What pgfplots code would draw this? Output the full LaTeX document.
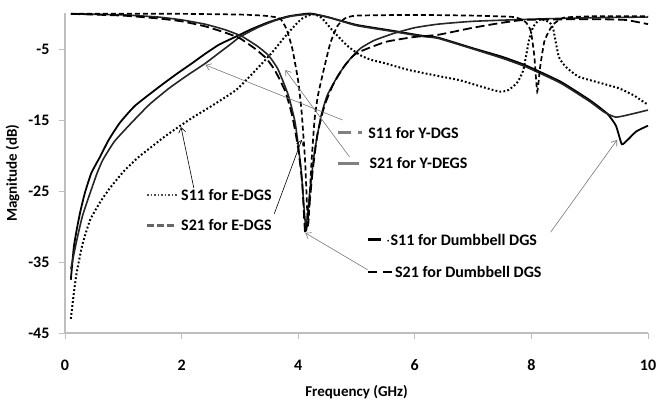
\documentclass[border=0pt]{standalone}
\usepackage{pgfplots}
\pgfplotsset{compat=1.18}
\usepackage{fontspec}
\setmainfont{Carlito}
\usetikzlibrary{arrows.meta}
\definecolor{axgray}{RGB}{190,190,190}
\definecolor{lblgray}{RGB}{128,128,128}
\definecolor{arrgray}{RGB}{120,120,120}
\begin{document}
\begin{tikzpicture}
\begin{axis}[
  scale only axis, width=583pt, height=319.5pt,
  xmin=0, xmax=10, ymin=-45, ymax=0,
  axis lines*=left,
  axis line style={axgray, line width=1.2pt},
  xtick={0,2,4,6,8,10}, xticklabels={0,2,4,6,8,10},
  ytick={-45,-35,-25,-15,-5}, yticklabels={-45,-35,-25,-15,-5},
  tick style={axgray, line width=0.8pt},
  major tick length=6pt,
  tick align=outside,
  ticklabel style={font=\fontsize{16}{16}\selectfont\bfseries},
  xticklabel style={anchor=center, yshift=-26pt},
  yticklabel style={xshift=-6pt},
  xlabel={Frequency (GHz)}, ylabel={Magnitude (dB)},
  label style={font=\fontsize{15}{15}\selectfont\bfseries},
  xlabel style={at={(axis description cs:0.5,-0.185)}, anchor=center},
  ylabel style={at={(axis description cs:-0.09,0.5)}, anchor=center},
  clip=false,
]
% S11 Dumbbell DGS
\addplot[black, line width=1.8pt, smooth, tension=0.3] coordinates {
(0.1,-37.5)(0.15,-33)(0.2,-30.5)(0.26,-28)(0.34,-25.3)(0.45,-22.5)(0.6,-20.2)(0.75,-17.8)(0.94,-15.4)(1.2,-13)(1.62,-10.3)(1.9,-8.6)(2.18,-7)(2.4,-5.7)(2.64,-4.4)(2.92,-3.3)(3.2,-2.2)(3.5,-1.2)(3.83,-0.4)(4.2,0)(4.5,-0.5)(5.0,-1.6)(5.6,-2.4)(6.1,-3.1)(6.4,-3.4)(7.0,-4.9)(7.5,-6.1)(7.9,-7.3)(8.5,-9.6)(9.0,-12.2)(9.3,-14.1)(9.45,-15.8)(9.55,-18.4)(9.65,-17.8)(9.8,-16.6)(10,-15.8)};
% S11 Y-DGS
\addplot[black!85, line width=1.6pt, smooth, tension=0.3] coordinates {
(0.1,-36)(0.15,-34)(0.2,-32)(0.3,-28.5)(0.43,-25.3)(0.55,-22.5)(0.65,-20.6)(0.85,-18)(1.14,-15.4)(1.45,-12.8)(1.79,-10.5)(2.1,-8.7)(2.41,-7)(2.65,-5.5)(2.86,-4.2)(3.0,-3.3)(3.3,-2.0)(3.6,-1.0)(3.9,-0.35)(4.25,-0.1)(4.55,-0.6)(5.0,-1.7)(5.6,-2.5)(6.1,-3.2)(6.4,-3.5)(7.0,-5.0)(7.5,-6.3)(7.9,-7.5)(8.5,-9.8)(9.0,-12.4)(9.25,-13.9)(9.45,-14.6)(9.7,-14.2)(10,-13.6)};
% S21 Y-DGS
\addplot[black!85, line width=1.6pt, smooth, tension=0.3] coordinates {
(0.1,-0.05)(1.0,-0.2)(1.6,-0.5)(2.0,-0.9)(2.4,-1.5)(2.75,-2.3)(3.03,-3.2)(3.3,-4.6)(3.49,-5.9)(3.65,-7.8)(3.83,-11.5)(3.95,-15.5)(4.05,-22)(4.13,-30)(4.2,-25)(4.28,-19.5)(4.39,-14.5)(4.5,-11.5)(4.7,-8.5)(4.9,-6.3)(5.07,-4.9)(5.3,-3.8)(5.64,-2.8)(6.0,-2.0)(6.4,-1.5)(7.0,-1.1)(8.0,-0.8)(9.0,-0.6)(10,-0.5)};
% S21 Dumbbell DGS
\addplot[black, line width=1.8pt, dash pattern=on 9pt off 4pt, smooth, tension=0.3] coordinates {
(0.1,-0.05)(1.0,-0.3)(1.6,-0.7)(2.0,-1.1)(2.4,-1.8)(2.75,-2.7)(3.0,-3.5)(3.25,-4.9)(3.45,-6.3)(3.6,-8.0)(3.78,-11)(3.9,-14.5)(4.0,-19)(4.07,-24)(4.12,-31)(4.18,-28)(4.25,-22)(4.33,-17)(4.45,-13)(4.6,-10)(4.8,-7.3)(5.0,-5.6)(5.5,-4.0)(6.0,-3.3)(6.4,-3.0)(7.0,-2.0)(7.5,-1.3)(7.9,-0.9)(9.0,-0.8)(9.6,-0.9)(10,-1.5)};
% S21 E-DGS
\addplot[black, line width=1.7pt, dash pattern=on 5pt off 3pt, smooth, tension=0.3] coordinates {
(0.1,-0.02)(2.0,-0.05)(3.0,-0.15)(3.4,-0.3)(3.6,-0.5)(3.7,-0.8)(3.8,-2.2)(3.9,-5)(4.0,-9.5)(4.06,-14)(4.12,-21)(4.17,-30)(4.22,-22)(4.28,-15)(4.34,-11.5)(4.45,-7.5)(4.55,-4.2)(4.67,-1.8)(4.8,-0.7)(5.0,-0.3)(6.0,-0.2)(7.0,-0.3)(7.7,-0.5)(7.9,-1.2)(7.99,-2.5)(8.05,-6)(8.1,-11)(8.15,-7.5)(8.22,-4)(8.3,-2.5)(8.38,-1.5)(8.55,-0.6)(9,-0.4)(10,-0.4)};
% S11 E-DGS
\addplot[black, line width=2pt, dash pattern=on 1.8pt off 2.2pt, smooth, tension=0.3] coordinates {
(0.1,-43)(0.15,-39.5)(0.2,-36.5)(0.3,-32.5)(0.43,-29.1)(0.6,-26.6)(0.77,-24.6)(1.0,-22.3)(1.25,-20.3)(1.45,-19.0)(1.7,-17.4)(1.96,-15.9)(2.2,-14.6)(2.5,-13.1)(2.93,-10.8)(3.2,-8.6)(3.54,-5.6)(3.8,-3.0)(4.05,-0.8)(4.25,-0.1)(4.4,-0.6)(4.6,-2.5)(4.85,-4.6)(5.07,-5.9)(5.24,-6.5)(5.48,-7.0)(5.92,-8.0)(6.4,-8.8)(6.77,-9.4)(7.1,-10.2)(7.45,-11.0)(7.6,-10.8)(7.75,-9.8)(7.86,-8)(7.96,-3.7)(8.03,-1.9)(8.15,-0.8)(8.3,-1.2)(8.37,-2)(8.47,-6.1)(8.6,-7.6)(8.81,-8.9)(9.1,-9.6)(9.49,-10.5)(9.75,-11.5)(9.95,-12.6)(10,-12.8)};

% annotation arrows
\draw[arrgray, line width=0.6pt, -{Straight Barb[length=5pt,width=7pt]}] (axis cs:4.76,-15.0) -- (axis cs:2.41,-7.25);
\draw[arrgray, line width=0.6pt, -{Straight Barb[length=5pt,width=7pt]}] (axis cs:4.88,-20.2) -- (axis cs:3.78,-7.96);
\draw[black, line width=0.6pt, -{Straight Barb[length=5pt,width=7pt]}] (axis cs:2.21,-24.6) -- (axis cs:1.99,-16.0);
\draw[black, line width=0.6pt, -{Straight Barb[length=5pt,width=7pt]}] (axis cs:3.59,-28.2) -- (axis cs:4.06,-17.8);
\draw[arrgray, line width=0.6pt, -{Straight Barb[length=5pt,width=7pt]}] (axis cs:8.33,-30.8) -- (axis cs:9.47,-17.8);
\draw[arrgray, line width=0.6pt, -{Straight Barb[length=5pt,width=7pt]}] (axis cs:5.19,-36.1) -- (axis cs:4.12,-30.9);

% labels with line samples
\draw[lblgray, line width=3pt] (axis cs:4.68,-16.83) -- (axis cs:4.90,-16.83);
\draw[lblgray, line width=3pt] (axis cs:5.02,-16.83) -- (axis cs:5.09,-16.83);
\node[anchor=west, inner sep=0pt, font=\fontsize{16}{16}\selectfont\bfseries] at (axis cs:5.2,-16.83) {S11 for Y-DGS};
\draw[lblgray, line width=3pt] (axis cs:4.68,-21.06) -- (axis cs:5.05,-21.06);
\node[anchor=west, inner sep=0pt, font=\fontsize{16}{16}\selectfont\bfseries] at (axis cs:5.22,-21.06) {S21 for Y-DEGS};
\draw[black!70, line width=2.5pt, dash pattern=on 1.5pt off 2pt] (axis cs:1.41,-25.56) -- (axis cs:1.92,-25.56);
\node[anchor=west, inner sep=0pt, font=\fontsize{16}{16}\selectfont\bfseries] at (axis cs:1.99,-25.56) {S11 for E-DGS};
\draw[black!60, line width=3pt, dash pattern=on 7pt off 3pt] (axis cs:1.41,-29.79) -- (axis cs:1.92,-29.79);
\node[anchor=west, inner sep=0pt, font=\fontsize{16}{16}\selectfont\bfseries] at (axis cs:1.99,-29.79) {S21 for E-DGS};
\draw[black, line width=3pt] (axis cs:5.19,-31.9) -- (axis cs:5.42,-31.9);
\node[anchor=west, inner sep=0pt, font=\fontsize{16}{16}\selectfont\bfseries] at (axis cs:5.5,-31.9) {$\cdot$S11 for Dumbbell DGS};
\draw[black, line width=2.5pt, dash pattern=on 9pt off 6pt] (axis cs:5.19,-36.41) -- (axis cs:5.62,-36.41);
\node[anchor=west, inner sep=0pt, font=\fontsize{16}{16}\selectfont\bfseries] at (axis cs:5.66,-36.41) {S21 for Dumbbell DGS};
\end{axis}
\pgfresetboundingbox
\path (current axis.south west) ++(-65pt,-72pt) rectangle ([shift={(10pt,13.5pt)}]current axis.north east);
\end{tikzpicture}
\end{document}
